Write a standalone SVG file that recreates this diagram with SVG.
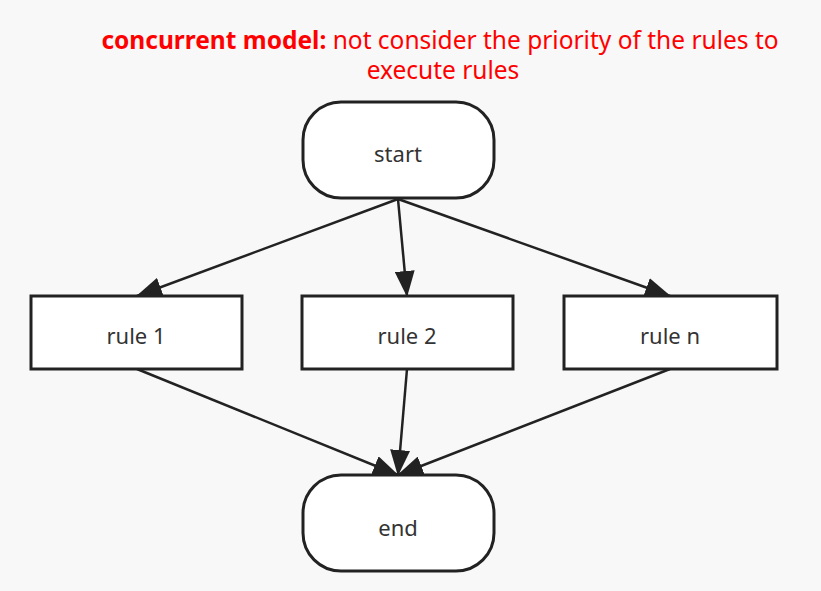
<svg xmlns="http://www.w3.org/2000/svg" width="821" height="591" viewBox="0 0 821 591">
<style>
.node{fill:#fff;stroke:#222;stroke-width:3}
.lbl{font-family:"Noto Sans","Open Sans",sans-serif;font-size:22px;fill:#333;text-anchor:middle}
.edge{stroke:#222;stroke-width:2.5;fill:none;marker-end:url(#ah)}
.title{font-family:"Noto Sans","Open Sans",sans-serif;font-size:24.5px;fill:#ff0000;text-anchor:middle}
</style>
<defs>
<marker id="ah" viewBox="0 0 26 20" refX="25" refY="10" markerWidth="26" markerHeight="20" markerUnits="userSpaceOnUse" orient="auto">
<path d="M0,0 L26,10 L0,20 Z" fill="#222"/>
</marker>
</defs>
<rect width="821" height="591" fill="#f8f8f8"/>
<g id="title">
<text class="title" x="440" y="49"><tspan font-weight="bold">concurrent model:</tspan> not consider the priority of the rules to</text>
<text class="title" x="443" y="79">execute rules</text>
</g>
<g id="edges">
<line class="edge" x1="398" y1="199" x2="137" y2="296"/>
<line class="edge" x1="398" y1="199" x2="407" y2="296"/>
<line class="edge" x1="398" y1="199" x2="670" y2="296"/>
<line class="edge" x1="137" y1="369" x2="398" y2="475"/>
<line class="edge" x1="407" y1="369" x2="398" y2="475"/>
<line class="edge" x1="670" y1="369" x2="398" y2="475"/>
</g>
<g id="start">
<rect class="node" x="303" y="102" width="191" height="96" rx="38" ry="38"/>
<text class="lbl" x="398" y="162">start</text>
</g>
<g id="rule1">
<rect class="node" x="31" y="296" width="211" height="73"/>
<text class="lbl" x="136" y="344">rule 1</text>
</g>
<g id="rule2">
<rect class="node" x="302" y="296" width="211" height="73"/>
<text class="lbl" x="407" y="344">rule 2</text>
</g>
<g id="rulen">
<rect class="node" x="564" y="296" width="213" height="73"/>
<text class="lbl" x="670" y="344">rule n</text>
</g>
<g id="end">
<rect class="node" x="303" y="475" width="191" height="96" rx="38" ry="38"/>
<text class="lbl" x="398" y="536">end</text>
</g>
</svg>
